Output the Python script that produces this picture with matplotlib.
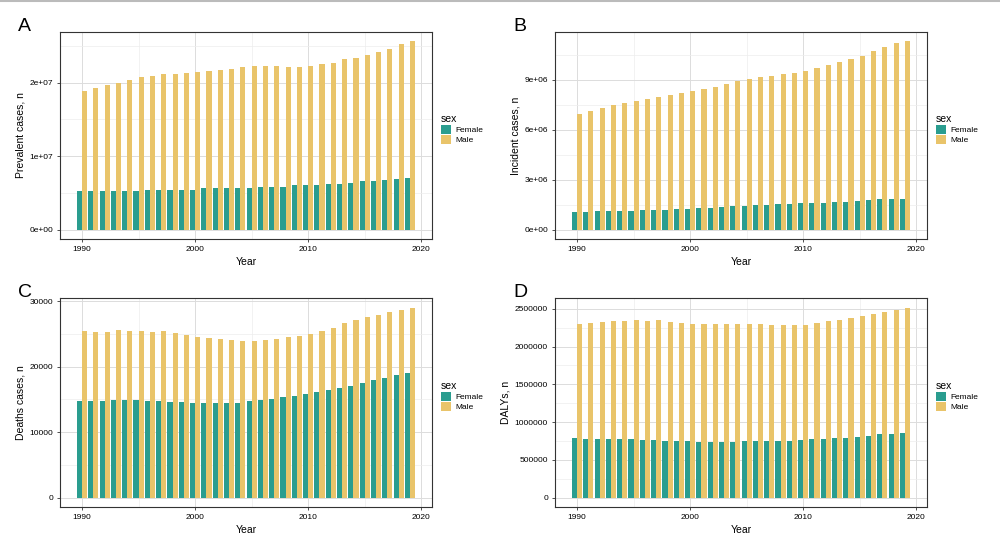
import numpy as np
import matplotlib
matplotlib.use("Agg")
import matplotlib.pyplot as plt
from matplotlib.lines import Line2D

plt.rcParams['font.family'] = ['Liberation Sans', 'DejaVu Sans']

years = np.arange(1990, 2020)

prev_female = [5.18e6, 5.20e6, 5.30e6, 5.30e6, 5.30e6, 5.30e6, 5.45e6, 5.45e6, 5.45e6, 5.45e6,
               5.45e6, 5.60e6, 5.60e6, 5.60e6, 5.70e6, 5.70e6, 5.85e6, 5.85e6, 5.85e6, 6.00e6,
               6.00e6, 6.10e6, 6.25e6, 6.25e6, 6.40e6, 6.55e6, 6.67e6, 6.80e6, 6.90e6, 7.07e6]
prev_male = [1.88e7, 1.92e7, 1.96e7, 2.00e7, 2.04e7, 2.07e7, 2.085e7, 2.11e7, 2.11e7, 2.125e7,
             2.14e7, 2.15e7, 2.17e7, 2.18e7, 2.21e7, 2.22e7, 2.22e7, 2.22e7, 2.21e7, 2.21e7,
             2.22e7, 2.25e7, 2.27e7, 2.315e7, 2.34e7, 2.38e7, 2.42e7, 2.46e7, 2.52e7, 2.56e7]

inc_female = [1.03e6, 1.03e6, 1.09e6, 1.09e6, 1.09e6, 1.09e6, 1.15e6, 1.15e6, 1.15e6, 1.21e6,
              1.21e6, 1.27e6, 1.27e6, 1.33e6, 1.39e6, 1.39e6, 1.45e6, 1.45e6, 1.51e6, 1.51e6,
              1.57e6, 1.57e6, 1.57e6, 1.63e6, 1.63e6, 1.69e6, 1.75e6, 1.81e6, 1.81e6, 1.81e6]
inc_male = [6.93e6, 7.11e6, 7.29e6, 7.47e6, 7.59e6, 7.71e6, 7.83e6, 7.95e6, 8.07e6, 8.19e6,
            8.30e6, 8.42e6, 8.54e6, 8.72e6, 8.90e6, 9.02e6, 9.14e6, 9.20e6, 9.32e6, 9.38e6,
            9.50e6, 9.68e6, 9.85e6, 10.03e6, 10.21e6, 10.39e6, 10.69e6, 10.93e6, 11.17e6, 11.29e6]

death_female = [14790, 14790, 14790, 14950, 14950, 14950, 14790, 14790, 14640, 14640,
                14490, 14490, 14490, 14490, 14490, 14790, 14950, 15100, 15400, 15560,
                15860, 16170, 16470, 16780, 17080, 17540, 18000, 18300, 18760, 19060]
death_male = [25470, 25320, 25320, 25620, 25470, 25470, 25320, 25470, 25170, 24860,
              24560, 24400, 24250, 24100, 23950, 23950, 24100, 24250, 24560, 24710,
              25010, 25470, 25930, 26690, 27150, 27610, 27910, 28370, 28670, 28980]

daly_female = [794e3, 780e3, 780e3, 780e3, 780e3, 780e3, 767e3, 767e3, 754e3, 754e3,
               754e3, 741e3, 741e3, 741e3, 741e3, 754e3, 754e3, 754e3, 754e3, 754e3,
               767e3, 780e3, 780e3, 794e3, 794e3, 807e3, 820e3, 847e3, 847e3, 860e3]
daly_male = [2.302e6, 2.315e6, 2.328e6, 2.341e6, 2.341e6, 2.354e6, 2.341e6, 2.354e6, 2.328e6, 2.315e6,
             2.302e6, 2.302e6, 2.302e6, 2.302e6, 2.302e6, 2.302e6, 2.302e6, 2.288e6, 2.288e6, 2.288e6,
             2.288e6, 2.315e6, 2.341e6, 2.354e6, 2.381e6, 2.407e6, 2.434e6, 2.460e6, 2.487e6, 2.513e6]

panel_letters = ['A', 'B', 'C', 'D']
ylabels = ['Prevalent cases, n', 'Incident cases, n', 'Deaths cases, n', 'DALYs, n']
yticks_list = [[0, 1e7, 2e7], [0, 3e6, 6e6, 9e6], [0, 10000, 20000, 30000],
               [0, 500000, 1000000, 1500000, 2000000, 2500000]]
yticklabels_list = [['0e+00', '1e+07', '2e+07'], ['0e+00', '3e+06', '6e+06', '9e+06'],
                    ['0', '10000', '20000', '30000'],
                    ['0', '500000', '1000000', '1500000', '2000000', '2500000']]
female_list = [prev_female, inc_female, death_female, daly_female]
male_list = [prev_male, inc_male, death_male, daly_male]

col_female = '#2A9D8F'
col_male = '#E9C46A'

fig = plt.figure(figsize=(10, 5.35), dpi=100)
fig.add_artist(Line2D([0, 1], [0.998, 0.998], color='#BBBBBB', lw=1.5))

positions = [[0.060, 0.5533, 0.372, 0.387], [0.555, 0.5533, 0.372, 0.387],
             [0.060, 0.0523, 0.372, 0.390], [0.555, 0.0523, 0.372, 0.390]]

for i in range(4):
    ax = fig.add_axes(positions[i])
    female = np.array(female_list[i])
    male = np.array(male_list[i])
    ax.bar(years - 0.225, female, width=0.45, color=col_female, label='Female', zorder=3)
    ax.bar(years + 0.225, male, width=0.45, color=col_male, label='Male', zorder=3)

    ymax = max(female.max(), male.max())
    ax.set_ylim(-0.05 * ymax, 1.05 * ymax)
    ax.set_xlim(1988.05, 2020.95)

    ax.set_xticks([1990, 2000, 2010, 2020])
    ax.set_xticks([1995, 2005, 2015], minor=True)
    yt = yticks_list[i]
    ax.set_yticks(yt)
    ax.set_yticklabels(yticklabels_list[i])
    step = yt[1] - yt[0]
    ax.set_yticks(np.arange(step / 2, 1.05 * ymax, step), minor=True)

    ax.grid(which='major', color='#DCDCDC', lw=0.7, zorder=0)
    ax.grid(which='minor', color='#EDEDED', lw=0.5, zorder=0)
    ax.tick_params(which='major', labelsize=6, length=2.5, width=0.6, colors='#333333',
                   labelcolor='black', pad=2.5)
    ax.tick_params(which='minor', length=0)
    for sp in ax.spines.values():
        sp.set_color('#333333')
        sp.set_linewidth(0.8)

    ax.set_xlabel('Year', fontsize=7.5, labelpad=3)
    ax.set_ylabel(ylabels[i], fontsize=7.5, labelpad=3)

    ax.legend(loc='upper left', bbox_to_anchor=(1.015, 0.62), frameon=False,
              title='sex', fontsize=6, title_fontsize=7.5, alignment='left',
              handlelength=1.25, handleheight=1.25, handletextpad=0.5,
              labelspacing=0.12, borderaxespad=0)

    ax.text(-0.112, 1.005, panel_letters[i], transform=ax.transAxes, fontsize=14,
            ha='left', va='baseline')

fig.savefig('out.png', dpi=100)
